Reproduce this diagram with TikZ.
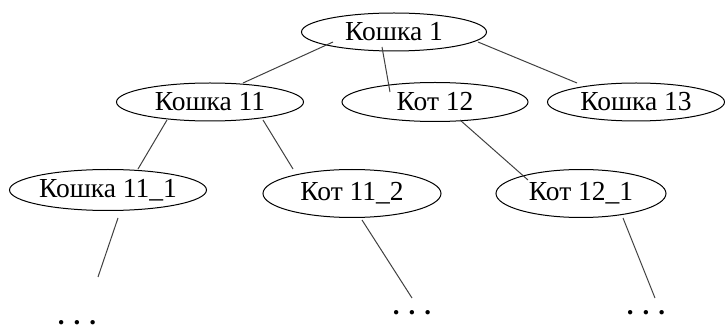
\documentclass[tikz,border=0pt]{standalone}
\usepackage{fontspec}
\setmainfont{Liberation Serif}
\usetikzlibrary{shapes.geometric,calc}
\begin{document}
\begin{tikzpicture}[x=1pt,y=1pt,
  cat/.style={ellipse,draw=black,line width=1pt,inner sep=0pt,font=\fontsize{27.5}{30}\selectfont},
  link/.style={draw=black!75,line width=1pt},
  dots/.style={inner sep=0pt,anchor=base,font=\fontsize{27}{30}\selectfont\bfseries}]
\useasboundingbox (0,0) rectangle (725,332);
\node[cat,minimum width=185pt,minimum height=38pt] (k1) at (394,300) {Кошка 1};
\node[cat,minimum width=187pt,minimum height=38pt] (k11) at (210,230) {Кошка 11};
\node[cat,minimum width=186pt,minimum height=39pt] (k12) at (435,230) {Кот 12};
\node[cat,minimum width=177pt,minimum height=38pt] (k13) at (636,230) {Кошка 13};
\node[cat,minimum width=197pt,minimum height=41pt] (k111) at (108,142) {Кошка 11\_1};
\node[cat,minimum width=178pt,minimum height=48pt] (k112) at (352,138.5) {Кот 11\_2};
\node[cat,minimum width=170pt,minimum height=48pt] (k121) at (581,138.5) {Кот 12\_1};
\node[dots] (d1) at (77,8) {.\,\,.\,\,.};
\node[dots] (d2) at (412,18) {.\,\,.\,\,.};
\node[dots] (d3) at (646,18) {.\,\,.\,\,.};
\coordinate (e1) at (98,55);
\coordinate (e2) at (412,34);
\coordinate (e3) at (655,34);
\draw[link] ($(k1)+(-61,-10)$) -- ($(k11)+(33,19)$);
\draw[link] ($(k1)+(-12,-15)$) -- ($(k12)+(-45,10)$);
\draw[link] ($(k1)+(84,-10)$) -- ($(k13)+(-59,19)$);
\draw[link] ($(k11)+(-43,-18)$) -- ($(k111)+(30,21)$);
\draw[link] ($(k11)+(53,-18)$) -- ($(k112)+(-59,24.5)$);
\draw[link] ($(k12)+(25,-18)$) -- ($(k121)+(-53,13.5)$);
\draw[link] ($(k111)+(10,-28)$) -- (e1);
\draw[link] ($(k112)+(10,-26.5)$) -- (e2);
\draw[link] ($(k121)+(42,-24.5)$) -- (e3);
\end{tikzpicture}
\end{document}
